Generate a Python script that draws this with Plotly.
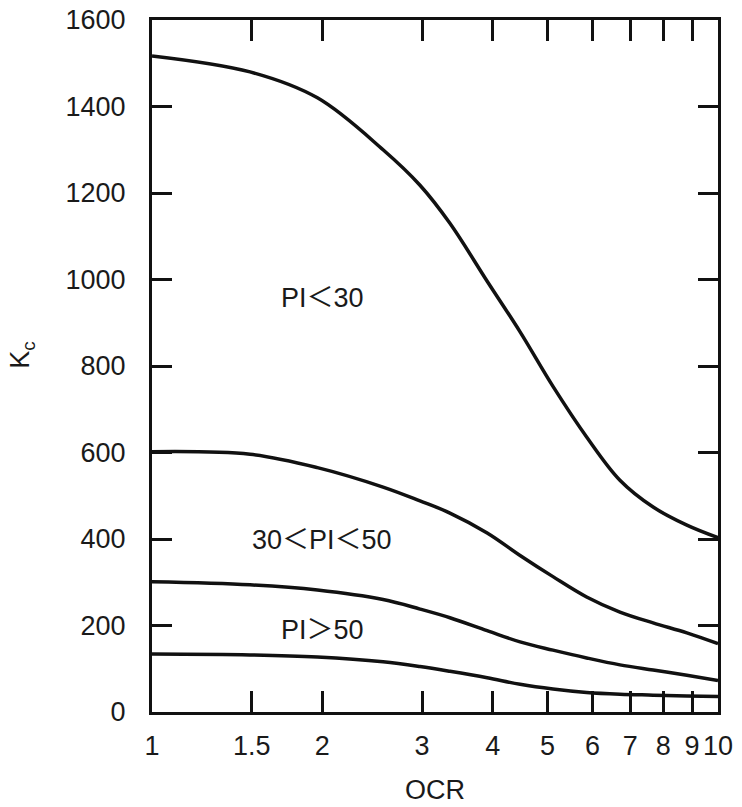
import math
import plotly.graph_objects as go

# OCR values (log axis) at which the curves were read
ocr = [1, 1.49, 1.96, 2.56, 2.975, 3.36, 3.91, 4.47, 5.11, 5.86, 6.71, 7.68, 8.81, 10]

# Kc curves
kc_pi_lt30 = [1517, 1480, 1420, 1300, 1218, 1130, 996, 879, 753, 636, 536, 474, 432, 403]
kc_pi_30_50 = [602, 596, 565, 520, 488, 460, 414, 362, 313, 266, 231, 206, 183, 158]
kc_pi_gt50 = [301, 294, 282, 260, 238, 218, 188, 162, 143, 125, 109, 97, 85, 73]
kc_bottom = [134, 132, 127, 116, 105, 94, 79, 64, 53, 45, 41, 39, 37, 36]

x_tickvals = [1, 1.5, 2, 3, 4, 5, 6, 7, 8, 9, 10]
x_ticktext = ["1", "1.5", "2", "3", "4", "5", "6", "7", "8", "9", "10"]
y_tickvals = [0, 200, 400, 600, 800, 1000, 1200, 1400, 1600]

labels = ["PI＜30", "30＜PI＜50", "PI＞50"]
label_ocr = [2.0, 2.0, 2.0]
label_kc = [957, 398, 190]

FONT = "Liberation Sans, Arial, Noto Sans CJK SC, sans-serif"
FS = 27
TXT = "#1a1a1a"

fig = go.Figure()
for ys in [kc_pi_lt30, kc_pi_30_50, kc_pi_gt50, kc_bottom]:
    fig.add_trace(go.Scatter(x=ocr, y=ys, mode="lines",
                             line=dict(color="#111", width=3.5, shape="spline", smoothing=1.0),
                             showlegend=False, hoverinfo="skip"))

for t, xx, yy in zip(labels, label_ocr, label_kc):
    fig.add_annotation(x=math.log10(xx), y=yy, xref="x", yref="y", text=t, showarrow=False,
                       font=dict(family=FONT, size=FS, color=TXT),
                       xanchor="center", yanchor="middle")

fig.add_annotation(x=-0.23, y=0.516, xref="paper", yref="paper",
                   text="K<sub>c</sub>", textangle=-90, showarrow=False,
                   font=dict(family=FONT, size=FS, color=TXT),
                   xanchor="center", yanchor="middle")
fig.add_annotation(x=0.5, y=-0.113, xref="paper", yref="paper",
                   text="OCR", showarrow=False,
                   font=dict(family=FONT, size=FS, color=TXT),
                   xanchor="center", yanchor="middle")

fig.update_xaxes(type="log", range=[0, 1], tickvals=x_tickvals, ticktext=x_ticktext,
                 ticks="inside", ticklen=21, tickwidth=2.5, tickcolor="#111",
                 showline=True, linewidth=3, linecolor="#111", mirror="ticks",
                 showgrid=False, zeroline=False, ticklabelstandoff=8,
                 ticklabeloverflow="allow",
                 tickfont=dict(family=FONT, size=FS, color=TXT))
fig.update_yaxes(range=[0, 1600], tickvals=y_tickvals,
                 ticks="inside", ticklen=20, tickwidth=2.5, tickcolor="#111",
                 showline=True, linewidth=3, linecolor="#111", mirror="ticks",
                 showgrid=False, zeroline=False, ticklabelstandoff=18,
                 ticklabeloverflow="allow",
                 tickfont=dict(family=FONT, size=FS, color=TXT))

fig.update_layout(width=742, height=807, autosize=False,
                  margin=dict(l=152, r=24, t=20, b=95, autoexpand=False),
                  plot_bgcolor="white", paper_bgcolor="white")

# remove the default 8px body margin so the figure fills the window exactly
fig.write_html("out.html", config={"displayModeBar": False},
               post_script="document.body.style.margin='0';document.body.style.overflow='hidden';")
